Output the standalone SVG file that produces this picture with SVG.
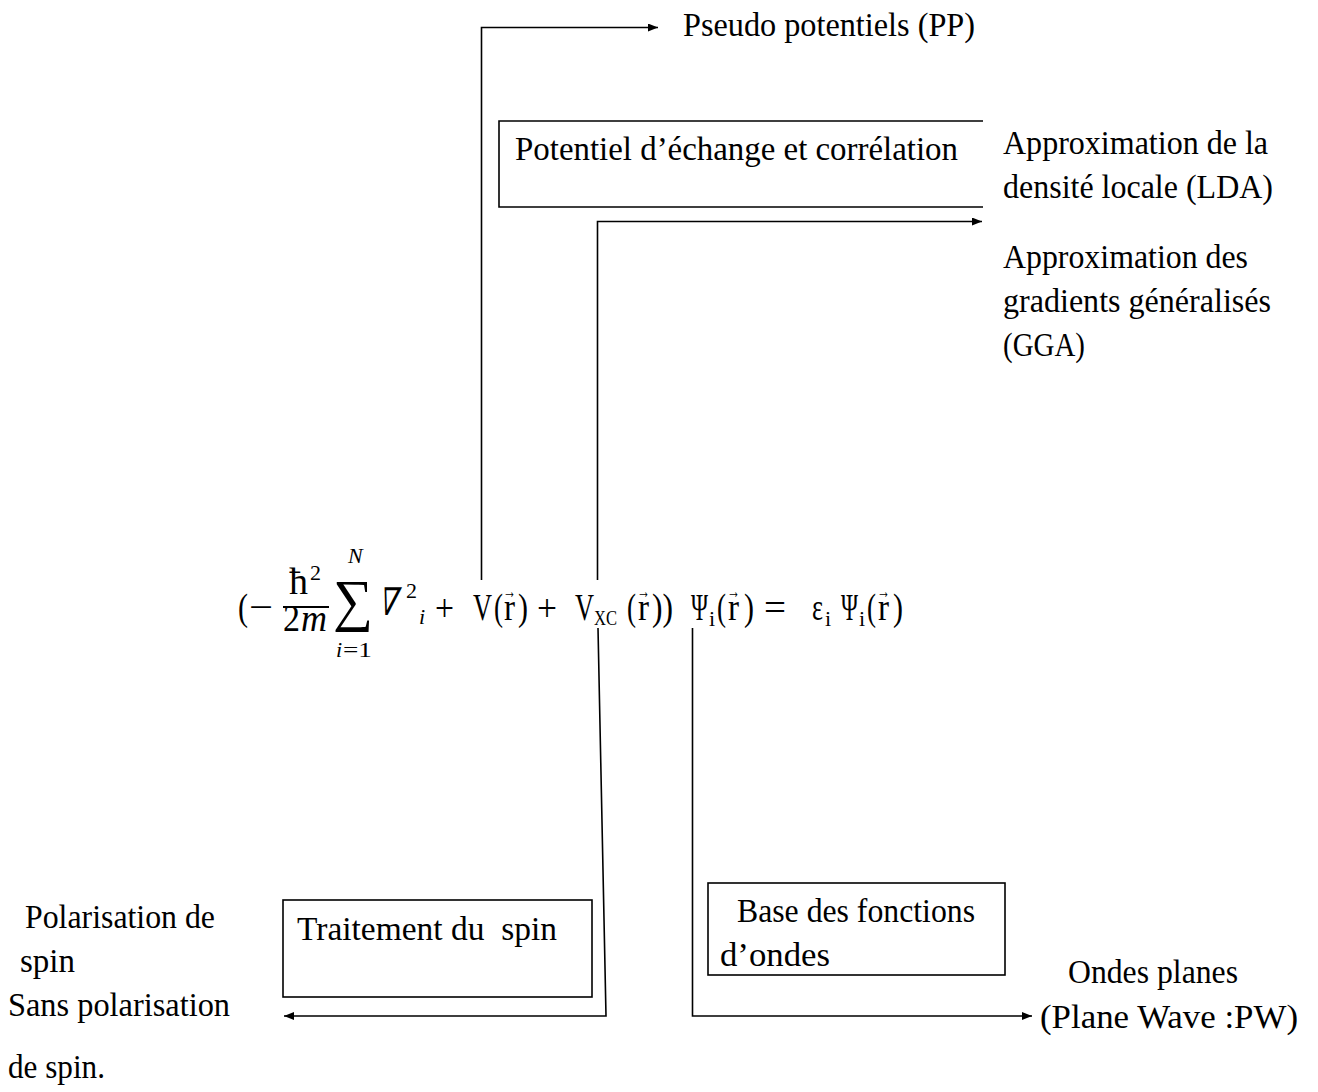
<svg xmlns="http://www.w3.org/2000/svg" width="1318" height="1092" viewBox="0 0 1318 1092">
  <defs>
    <marker id="arrow" viewBox="0 0 10 8" refX="10" refY="4" markerWidth="10" markerHeight="8" markerUnits="userSpaceOnUse" orient="auto">
      <path d="M0,0 L10,4 L0,8 Z" fill="#000"/>
    </marker>
    <style>
      text { font-family: "Liberation Serif", "DejaVu Serif", serif; fill: #000; }
      .lbl { font-size: 33px; }
      .m { font-size: 38px; }
      .ms { font-size: 22px; }
      .acc { font-size: 20px; }
      .it { font-style: italic; }
      .box { fill: none; stroke: #000; stroke-width: 1.6; }
      .wire { fill: none; stroke: #000; stroke-width: 1.6; }
    </style>
  </defs>
  <rect width="1318" height="1092" fill="#fff"/>

  <!-- Kohn-Sham equation, one text run with positioned pieces -->
  <g id="equation">
    <line x1="283" y1="607" x2="329" y2="607" stroke="#000" stroke-width="1.8"/>
    <!-- slanted nabla (math italic) -->
    <text class="m" transform="translate(377,615) skewX(-14)" x="0" y="0" font-size="32" textLength="19" lengthAdjust="spacingAndGlyphs">∇</text>
    <text class="m"><tspan x="238" y="620" textLength="10" lengthAdjust="spacingAndGlyphs">(</tspan><tspan x="249" y="620" textLength="24" lengthAdjust="spacingAndGlyphs">−</tspan><tspan x="289" y="594" textLength="19" lengthAdjust="spacingAndGlyphs">ħ</tspan><tspan class="ms" x="310" y="580">2</tspan><tspan x="283" y="631" textLength="17" lengthAdjust="spacingAndGlyphs">2</tspan><tspan class="it" x="301" y="631" textLength="26" lengthAdjust="spacingAndGlyphs">m</tspan><tspan x="333" y="620" font-size="58" textLength="40" lengthAdjust="spacingAndGlyphs">∑</tspan><tspan class="ms it" x="348" y="563">N</tspan><tspan class="ms it" x="336" y="657">i</tspan><tspan class="ms" x="343" y="657" textLength="29" lengthAdjust="spacingAndGlyphs">=1</tspan><tspan class="ms" x="406" y="598">2</tspan><tspan class="ms it" x="419" y="624">i</tspan><tspan x="435" y="621" textLength="19" lengthAdjust="spacingAndGlyphs">+</tspan><tspan x="473" y="620" textLength="19" lengthAdjust="spacingAndGlyphs">V</tspan><tspan x="494" y="620" textLength="9" lengthAdjust="spacingAndGlyphs">(</tspan><tspan x="504" y="620" textLength="11" lengthAdjust="spacingAndGlyphs">r</tspan><tspan class="acc" x="503" y="598" textLength="13" lengthAdjust="spacingAndGlyphs">→</tspan><tspan x="518" y="620" textLength="10" lengthAdjust="spacingAndGlyphs">)</tspan><tspan x="537" y="621" textLength="20" lengthAdjust="spacingAndGlyphs">+</tspan><tspan x="575" y="620" textLength="19" lengthAdjust="spacingAndGlyphs">V</tspan><tspan class="ms" x="594" y="625" textLength="23" lengthAdjust="spacingAndGlyphs">XC</tspan><tspan x="627" y="620" textLength="9" lengthAdjust="spacingAndGlyphs">(</tspan><tspan x="638" y="620" textLength="11" lengthAdjust="spacingAndGlyphs">r</tspan><tspan class="acc" x="637" y="598" textLength="13" lengthAdjust="spacingAndGlyphs">→</tspan><tspan x="652" y="620" textLength="21" lengthAdjust="spacingAndGlyphs">))</tspan><tspan x="691" y="620" textLength="17" lengthAdjust="spacingAndGlyphs">Ψ</tspan><tspan class="ms" x="709" y="626">i</tspan><tspan x="717" y="620" textLength="9" lengthAdjust="spacingAndGlyphs">(</tspan><tspan x="728" y="620" textLength="11" lengthAdjust="spacingAndGlyphs">r</tspan><tspan class="acc" x="727" y="598" textLength="13" lengthAdjust="spacingAndGlyphs">→</tspan><tspan x="744" y="620" textLength="10" lengthAdjust="spacingAndGlyphs">)</tspan><tspan x="764" y="620" textLength="22" lengthAdjust="spacingAndGlyphs">=</tspan><tspan x="812" y="620" textLength="11" lengthAdjust="spacingAndGlyphs">ε</tspan><tspan class="ms" x="825" y="626">i</tspan><tspan x="841" y="620" textLength="17" lengthAdjust="spacingAndGlyphs">Ψ</tspan><tspan class="ms" x="859" y="626">i</tspan><tspan x="867" y="620" textLength="9" lengthAdjust="spacingAndGlyphs">(</tspan><tspan x="878" y="620" textLength="11" lengthAdjust="spacingAndGlyphs">r</tspan><tspan class="acc" x="877" y="598" textLength="13" lengthAdjust="spacingAndGlyphs">→</tspan><tspan x="893" y="620" textLength="10" lengthAdjust="spacingAndGlyphs">)</tspan></text>
  </g>

  <!-- connectors -->
  <g id="connectors">
    <path class="wire" d="M481.5,580 V27.5 H658" marker-end="url(#arrow)"/>
    <path class="wire" d="M597.5,580 V221.5 H982" marker-end="url(#arrow)"/>
    <path class="wire" d="M598,628 L606,1016 H284" marker-end="url(#arrow)"/>
    <path class="wire" d="M692.5,628 V1016 H1032" marker-end="url(#arrow)"/>
  </g>

  <g id="pseudo-potentiels">
    <text class="lbl" x="683" y="36" textLength="292" lengthAdjust="spacingAndGlyphs">Pseudo potentiels (PP)</text>
  </g>

  <g id="potentiel-xc">
    <path class="box" d="M983,121 H499 V207 H983"/>
    <text class="lbl" x="515" y="160" textLength="443" lengthAdjust="spacingAndGlyphs">Potentiel d’échange et corrélation</text>
  </g>

  <g id="lda">
    <text class="lbl" x="1003" y="154" textLength="265" lengthAdjust="spacingAndGlyphs">Approximation de la</text>
    <text class="lbl" x="1003" y="198" textLength="270" lengthAdjust="spacingAndGlyphs">densité locale (LDA)</text>
  </g>

  <g id="gga">
    <text class="lbl" x="1003" y="268" textLength="245" lengthAdjust="spacingAndGlyphs">Approximation des</text>
    <text class="lbl" x="1003" y="312" textLength="268" lengthAdjust="spacingAndGlyphs">gradients généralisés</text>
    <text class="lbl" x="1003" y="356" textLength="82" lengthAdjust="spacingAndGlyphs">(GGA)</text>
  </g>

  <g id="traitement-spin">
    <rect class="box" x="283" y="900" width="309" height="97"/>
    <text class="lbl" x="297" y="940" textLength="260" lengthAdjust="spacingAndGlyphs">Traitement du&#160; spin</text>
  </g>

  <g id="polarisation">
    <text class="lbl" x="25" y="928" textLength="190" lengthAdjust="spacingAndGlyphs">Polarisation de</text>
    <text class="lbl" x="20" y="972" textLength="55" lengthAdjust="spacingAndGlyphs">spin</text>
  </g>

  <g id="sans-polarisation">
    <text class="lbl" x="8" y="1016" textLength="222" lengthAdjust="spacingAndGlyphs">Sans polarisation</text>
    <text class="lbl" x="8" y="1078" textLength="97" lengthAdjust="spacingAndGlyphs">de spin.</text>
  </g>

  <g id="base-fonctions">
    <rect class="box" x="708" y="883" width="297" height="92"/>
    <text class="lbl" x="737" y="922" textLength="238" lengthAdjust="spacingAndGlyphs">Base des fonctions</text>
    <text class="lbl" x="720" y="966" textLength="110" lengthAdjust="spacingAndGlyphs">d’ondes</text>
  </g>

  <g id="ondes-planes">
    <text class="lbl" x="1068" y="983" textLength="170" lengthAdjust="spacingAndGlyphs">Ondes planes</text>
    <text class="lbl" x="1040" y="1028" textLength="258" lengthAdjust="spacingAndGlyphs">(Plane Wave :PW)</text>
  </g>
</svg>
